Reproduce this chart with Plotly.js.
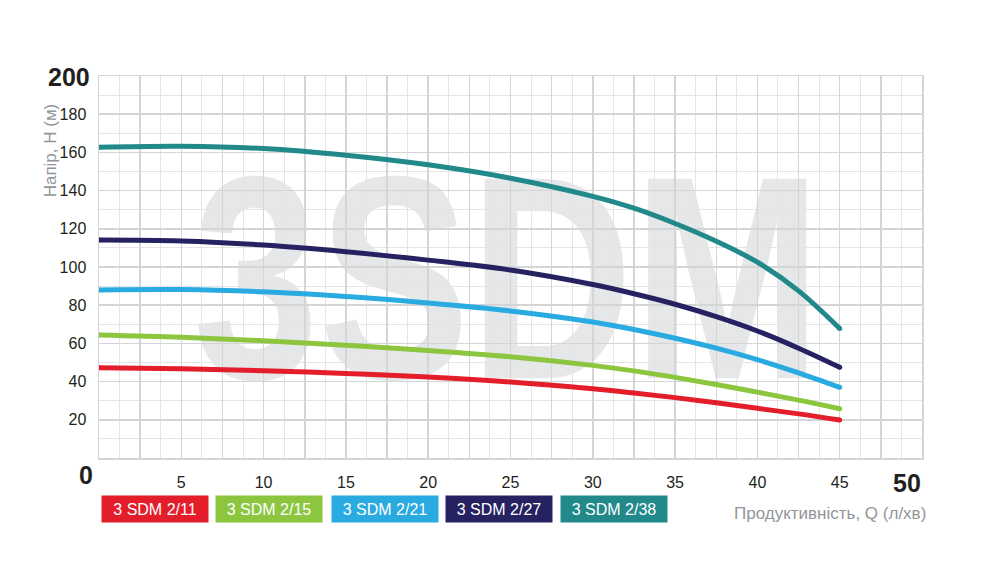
<!DOCTYPE html>
<html>
<head>
<meta charset="utf-8">
<script src="https://cdn.plot.ly/plotly-3.0.1.min.js"></script>
<style>html,body{margin:0;padding:0;background:#fff;}#chart{width:999px;height:565px;}</style>
</head>
<body>
<div id="chart"></div>
<script>
// ---- data ----
const flow      = [0, 5, 10, 15, 20, 25, 30, 32.5, 35, 37.5, 40, 42.5, 45];
const head_2_11 = [47.3, 46.7, 45.7, 44.3, 42.4, 39.8, 36.2, 34.0, 31.6, 28.9, 26.0, 23.1, 19.9];
const head_2_15 = [64.4, 63.2, 61.4, 59.0, 56.3, 53.0, 48.5, 45.6, 42.2, 38.5, 34.5, 30.3, 25.8];
const head_2_21 = [88.0, 88.2, 87.0, 84.6, 81.2, 77.0, 71.2, 67.3, 62.7, 57.5, 51.5, 44.6, 37.0];
const head_2_27 = [114.1, 113.6, 111.5, 108.0, 103.6, 98.4, 90.8, 86.0, 80.5, 74.0, 66.5, 57.5, 47.5];
const head_2_38 = [162.7, 163.2, 162.0, 158.5, 153.5, 146.5, 137.0, 130.8, 122.8, 113.5, 102.5, 87.5, 67.8];
const seriesNames = ['3 SDM 2/11', '3 SDM 2/15', '3 SDM 2/21', '3 SDM 2/27', '3 SDM 2/38'];
const seriesColors = ['#e31e2a', '#8cc63f', '#29abe2', '#262262', '#21898a'];
const xTickVals = [5, 10, 15, 20, 25, 30, 35, 40, 45];
const yTickVals = [20, 40, 60, 80, 100, 120, 140, 160, 180];
const xTitle = 'Продуктивність, Q (л/хв)';
const yTitle = 'Напір, H (м)';
const watermark = '3SDM';

const FONT = '"Liberation Sans", Arial, sans-serif';
const seriesValues = [head_2_11, head_2_15, head_2_21, head_2_27, head_2_38];

const traces = seriesValues.map((vals, i) => ({
  type: 'scatter', mode: 'lines', x: flow, y: vals, name: seriesNames[i],
  line: {color: seriesColors[i], width: 5, shape: 'spline', smoothing: 1.0},
  hoverinfo: 'skip', showlegend: false
}));
// round end caps
seriesValues.forEach((vals, i) => {
  traces.push({type: 'scatter', mode: 'markers', x: [flow[0], flow[flow.length-1]],
    y: [vals[0], vals[vals.length-1]], marker: {color: seriesColors[i], size: 5},
    hoverinfo: 'skip', showlegend: false});
});

const xMajor = [], xMajorText = [];
for (let v = 0; v <= 50.001; v += 2.5) {
  xMajor.push(v);
  xMajorText.push(xTickVals.includes(v) ? String(v) : '');
}
const yMajor = [], yMajorText = [];
for (let v = 0; v <= 200; v += 20) {
  yMajor.push(v);
  yMajorText.push(yTickVals.includes(v) ? String(v) : '');
}

const legendX = [3.43, 10.33, 17.35, 24.33, 31.26];
const annotations = seriesNames.map((n, i) => ({
  xref: 'x', yref: 'paper', x: legendX[i], y: -0.1335, xanchor: 'center', yanchor: 'middle',
  text: n, showarrow: false, bgcolor: seriesColors[i], width: 100, height: 20, borderpad: 3,
  font: {family: FONT, size: 16, color: '#ffffff'}
}));
annotations.push(
  {xref: 'paper', yref: 'paper', x: -0.0365, y: 0.997, text: '<b>200</b>', showarrow: false,
   xanchor: 'center', yanchor: 'middle', font: {family: FONT, size: 25, color: '#231f20'}},
  {xref: 'paper', yref: 'paper', x: -0.0164, y: -0.0445, text: '<b>0</b>', showarrow: false,
   xanchor: 'center', yanchor: 'middle', font: {family: FONT, size: 25, color: '#231f20'}},
  {xref: 'paper', yref: 'paper', x: 0.9818, y: -0.0654, text: '<b>50</b>', showarrow: false,
   xanchor: 'center', yanchor: 'middle', font: {family: FONT, size: 25, color: '#231f20'}},
  {xref: 'paper', yref: 'paper', x: 1.0075, y: -0.144, text: xTitle, showarrow: false,
   xanchor: 'right', yanchor: 'middle', font: {family: FONT, size: 17, color: '#939598'}},
  {xref: 'paper', yref: 'paper', x: -0.0585, y: 0.805, text: yTitle, showarrow: false, textangle: -90,
   xanchor: 'center', yanchor: 'middle', font: {family: FONT, size: 17, color: '#939598'}}
);

const layout = {
  width: 999, height: 565,
  margin: {l: 99, r: 77, t: 76, b: 107},
  paper_bgcolor: '#ffffff', plot_bgcolor: '#ffffff',
  showlegend: false,
  xaxis: {
    range: [0, 50], tickmode: 'array', tickvals: xMajor, ticktext: xMajorText,
    showgrid: true, gridcolor: '#d4d5d6', gridwidth: 1.5,
    minor: {tickmode: 'linear', tick0: 0, dtick: 1.25, showgrid: true, gridcolor: '#e5e5e6', gridwidth: 1},
    ticks: 'outside', ticklen: 9, tickcolor: 'rgba(0,0,0,0)',
    showline: true, mirror: true, linecolor: '#d4d5d6', linewidth: 1.5,
    zeroline: false, fixedrange: true,
    tickfont: {family: FONT, size: 16, color: '#231f20'}
  },
  yaxis: {
    range: [0, 200], tickmode: 'array', tickvals: yMajor, ticktext: yMajorText,
    showgrid: true, gridcolor: '#d4d5d6', gridwidth: 1.5,
    minor: {tickmode: 'linear', tick0: 0, dtick: 10, showgrid: true, gridcolor: '#e5e5e6', gridwidth: 1},
    ticks: 'outside', ticklen: 8, tickcolor: 'rgba(0,0,0,0)',
    showline: true, mirror: true, linecolor: '#d4d5d6', linewidth: 1.5,
    zeroline: false, fixedrange: true,
    tickfont: {family: FONT, size: 16, color: '#231f20'}
  },
  shapes: [{
    type: 'rect', xref: 'paper', yref: 'paper', x0: 0.196, x1: 0.796, y0: 0.244, y1: 0.844,
    layer: 'below', line: {width: 0}, fillcolor: 'rgba(0,0,0,0)',
    label: {text: '<b>' + watermark + '</b>', textposition: 'middle center',
      font: {family: FONT, size: 290, color: '#e6e7e8'}}
  }],
  annotations: annotations
};

Plotly.newPlot('chart', traces, layout, {displayModeBar: false, staticPlot: true}).then(gd => {
  // condense the watermark horizontally (condensed typeface look)
  gd.querySelectorAll('text').forEach(t => {
    if (t.textContent === watermark) {
      const bb = t.getBBox();
      const cx = bb.x + bb.width / 2;
      const prev = t.getAttribute('transform') || '';
      t.setAttribute('transform', 'translate(' + cx + ',0) scale(0.78,1) translate(' + (-cx) + ',0) ' + prev);
    }
  });
});
</script>
</body>
</html>
